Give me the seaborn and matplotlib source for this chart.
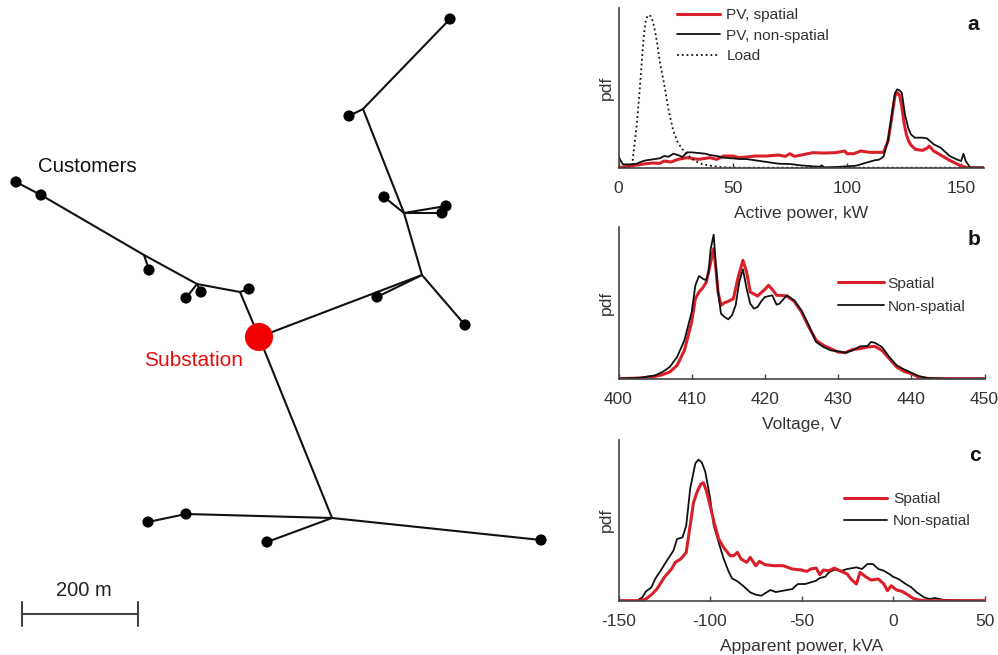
import pandas as pd
import matplotlib
matplotlib.use("Agg")
import matplotlib.pyplot as plt
import seaborn as sns

sns.set_style("white")
plt.rcParams['font.family'] = ['Liberation Sans', 'DejaVu Sans']
plt.rcParams['axes.unicode_minus'] = False

# --- network map, in image units (116 units = 200 m)
cust_x = [16, 41, 149, 186, 201, 249, 450, 349, 384, 446, 442, 377, 465, 148, 186, 267, 541]
cust_y = [182, 195, 270, 298, 292, 289, 19, 116, 197, 206, 213, 297, 325, 522, 514, 542, 540]
sub_x = [259]
sub_y = [337]

# one list of (x, y) vertices per feeder branch
branches = [
    [(16, 182), (41, 195), (144, 255), (197, 284), (240, 292), (259, 337)],
    [(144, 255), (149, 270)],
    [(197, 284), (186, 298)],
    [(197, 284), (201, 292)],
    [(240, 292), (249, 289)],
    [(259, 337), (422, 275), (465, 325)],
    [(422, 275), (377, 297)],
    [(422, 275), (404, 213), (363, 109), (450, 19)],
    [(363, 109), (349, 116)],
    [(404, 213), (384, 197)],
    [(404, 213), (446, 206)],
    [(404, 213), (442, 213)],
    [(259, 337), (332, 518), (541, 540)],
    [(332, 518), (186, 514), (148, 522)],
    [(332, 518), (267, 542)],
]

# --- panel a, active power
a_ticks = [0, 50, 100, 150]
a_load_x = [0, 5, 6, 7, 8, 9, 10, 11, 12, 13, 14, 15, 16, 17, 18, 20, 22, 24, 26, 28, 30, 33, 36, 40, 45, 50, 160]
a_load_y = [0, 0, 10, 70, 130, 210, 300, 390, 445, 458, 455, 440, 410, 370, 320, 250, 170, 110, 75, 55, 40, 22, 12, 6, 2, 0, 0]
a_ns_x = [0, 1, 2, 5, 8, 10, 12, 15, 18, 20, 22, 24, 26, 28, 30, 32, 35, 38, 40, 43, 46, 50, 53, 56, 60, 65, 70, 75, 80, 85, 88, 89, 90, 95, 100, 104, 108, 112, 114, 116, 118, 119.5, 121, 122, 123, 124, 125.4, 126.8, 128, 129.7, 133, 135, 138, 141, 145, 148, 150, 151, 152, 154, 160]
a_ns_y = [35, 20, 10, 10, 12, 18, 22, 25, 28, 35, 33, 42, 38, 32, 46, 46, 44, 42, 38, 35, 30, 28, 26, 26, 22, 17, 12, 11, 7, 4, 3, 7, 1, 2, 4, 6, 14, 22, 24, 33, 83, 153, 223, 235, 232, 225, 160, 120, 100, 90, 90, 88, 70, 60, 35, 25, 20, 42, 20, 0, 0]
a_sp_x = [0, 5, 8, 12, 15, 18, 20, 23, 26, 30, 35, 40, 43, 46, 50, 53, 60, 65, 70, 73, 75, 77, 80, 85, 90, 95, 99, 100, 103, 106, 110, 114, 116, 118, 119.5, 121, 122, 123, 124, 125, 126, 127, 128, 130, 133, 135, 136, 138, 141, 145, 150, 153, 160]
a_sp_y = [0, 5, 8, 12, 14, 13, 20, 17, 25, 30, 25, 30, 25, 35, 35, 30, 35, 35, 38, 34, 42, 34, 38, 45, 44, 45, 50, 42, 42, 50, 46, 46, 46, 80, 145, 215, 225, 218, 185, 135, 100, 80, 68, 55, 52, 58, 65, 50, 38, 22, 5, 0, 0]

# --- panel b, voltage
b_ticks = [400, 410, 420, 430, 440, 450]
b_ns_x = [400, 403, 405, 406, 407, 408, 409, 410, 410.5, 411, 411.5, 412, 412.3, 412.6, 413, 413.3, 413.6, 414, 414.5, 415, 415.5, 416, 416.5, 417, 417.5, 418, 418.5, 419, 419.5, 420, 421, 421.6, 422, 423, 424, 425, 426, 427, 428, 429, 430, 431, 432, 433, 434, 434.5, 435, 436, 437, 438, 439, 440, 441, 442, 443, 445, 450]
b_ns_y = [0, 3, 10, 20, 35, 65, 115, 200, 280, 308, 300, 295, 320, 390, 432, 340, 260, 195, 185, 178, 190, 220, 290, 328, 270, 225, 210, 215, 232, 245, 250, 222, 225, 250, 235, 205, 160, 110, 95, 85, 82, 78, 85, 97, 98, 110, 108, 95, 65, 40, 28, 18, 8, 3, 1, 0, 0]
b_sp_x = [400, 403, 405, 406, 407, 408, 409, 410, 410.5, 411, 411.5, 412, 412.5, 413, 413.3, 413.6, 414, 414.5, 415, 415.7, 416.3, 417, 417.5, 418, 419, 420, 420.5, 421, 421.6, 422, 423, 424, 425, 426, 427, 428, 429, 430, 431, 432, 433, 434, 435, 436, 437, 438, 439, 440, 441, 442, 444, 450]
b_sp_y = [0, 2, 7, 12, 20, 40, 85, 170, 240, 260, 272, 290, 340, 390, 330, 260, 220, 228, 232, 240, 300, 355, 320, 260, 248, 268, 280, 268, 250, 250, 248, 232, 200, 155, 115, 100, 90, 80, 78, 88, 90, 95, 97, 85, 60, 35, 22, 15, 5, 1, 0, 0]

# --- panel c, apparent power
c_ticks = [-150, -100, -50, 0, 50]
c_ns_x = [-150, -140, -137, -135, -132, -130, -127, -123, -120, -118, -115, -113, -110.8, -108, -106.3, -104.5, -102.6, -100, -98, -95, -92.6, -90, -88, -85, -82, -78, -75, -72, -70, -67, -64, -60, -55, -52, -48, -45, -42, -40, -37, -35, -32, -28, -25, -20, -17, -14, -11, -8, -5, -2, 0, 3, 7, 10, 13, 17, 20, 23, 27, 30, 35, 50]
c_ns_y = [0, 0, 10, 28, 40, 65, 90, 125, 150, 185, 190, 225, 337, 412, 423, 415, 387, 310, 227, 170, 127, 90, 67, 58, 45, 25, 18, 15, 22, 32, 26, 30, 35, 50, 50, 55, 60, 68, 72, 85, 93, 90, 95, 100, 95, 110, 110, 95, 90, 80, 72, 65, 50, 40, 25, 10, 5, 8, 3, 2, 1, 0]
c_sp_x = [-150, -138, -135, -132, -129, -125, -121, -119, -116, -113, -110.8, -109, -107, -105, -103.6, -102, -100, -98, -95.4, -92.6, -89, -87, -85, -83, -80, -78, -75, -73, -70, -65, -60, -55, -50, -47, -45, -42, -40, -38, -35, -32, -30, -27, -25, -23, -20, -18, -15, -12, -8, -5, -3, -1, 2, 5, 8, 11, 14, 18, 50]
c_sp_y = [0, 0, 5, 18, 35, 70, 95, 115, 125, 145, 227, 295, 327, 350, 354, 330, 287, 240, 187, 160, 135, 135, 145, 125, 115, 130, 105, 118, 108, 105, 105, 95, 92, 88, 95, 98, 78, 92, 90, 98, 92, 85, 80, 65, 50, 85, 72, 62, 65, 50, 30, 45, 32, 28, 18, 7, 2, 0, 0]

W, H = 998, 655
RED = '#d9202a'
BLACK = '#111111'
GREY = '#444444'
TXT = '#333333'

fig = plt.figure(figsize=(W / 100, H / 100), dpi=100)


def px_axes(left, top, right, bottom):
    return fig.add_axes([left / W, 1 - bottom / H, (right - left) / W, (bottom - top) / H])


# map
mp = px_axes(0, 0, W, H)
mp.set_xlim(0, W)
mp.set_ylim(H, 0)
mp.axis('off')

rows = []
for i, br in enumerate(branches):
    for k, (x, y) in enumerate(br):
        rows.append({'branch': i, 'order': k, 'x': x, 'y': y})
edges = pd.DataFrame(rows)
sns.lineplot(data=edges, x='x', y='y', units='branch', estimator=None, sort=False,
             color=BLACK, lw=1.5, ax=mp, legend=False)
sns.scatterplot(x=cust_x, y=cust_y, color='black', s=65, edgecolor='none', ax=mp, zorder=3)
sns.scatterplot(x=sub_x, y=sub_y, color='#f00000', s=410, edgecolor='none', ax=mp, zorder=4)
mp.set_xlabel('')
mp.set_ylabel('')

mp.text(38, 167, 'Customers', fontsize=14.7, color='#111111', va='center')
mp.text(144, 361, 'Substation', fontsize=15, color='#e01010', va='center')
mp.text(84, 590, '200 m', fontsize=14.5, color='#222222', ha='center', va='center')
mp.plot([22, 138], [614, 614], color=GREY, lw=1.5)
mp.plot([22, 22], [602, 626], color=GREY, lw=1.5)
mp.plot([138, 138], [602, 626], color=GREY, lw=1.5)


def style_panel(ax, xlim, ticks, ymax, xlabel, letter, letter_x, letter_y):
    ax.set_xlim(*xlim)
    ax.set_ylim(0, ymax)
    ax.set_xticks(ticks)
    ax.set_yticks([])
    ax.tick_params(axis='x', direction='in', length=3.5, width=1, color=GREY,
                   labelsize=12.5, labelcolor=TXT, pad=9.5, bottom=True)
    ax.set_xlabel(xlabel, fontsize=12.6, color=TXT, labelpad=7)
    ax.set_ylabel('pdf', fontsize=12.6, color=TXT, labelpad=3)
    ax.patch.set_alpha(0)
    sns.despine(ax=ax)
    for s in ['left', 'bottom']:
        ax.spines[s].set_color(GREY)
        ax.spines[s].set_linewidth(1.2)
    ax.text(letter_x, letter_y, letter, transform=ax.transAxes, fontsize=15, fontweight='bold',
            color='#111111', ha='right', va='center')


legend_kw = dict(loc='upper left', frameon=False, fontsize=11.1, labelcolor=TXT,
                 borderpad=0, borderaxespad=0)

# panel a
ax_a = px_axes(618.5, 8.3, 984, 167.7)
sns.lineplot(x=a_sp_x, y=a_sp_y, color=RED, lw=2.2, label='PV, spatial', ax=ax_a, estimator=None, sort=False)
sns.lineplot(x=a_ns_x, y=a_ns_y, color=BLACK, lw=1.3, label='PV, non-spatial', ax=ax_a, estimator=None, sort=False)
sns.lineplot(x=a_load_x, y=a_load_y, color=BLACK, lw=1.3, ls=':', label='Load', ax=ax_a, estimator=None, sort=False)
style_panel(ax_a, (0, 160), a_ticks, 478, 'Active power, kW', 'a', 0.985, 0.9)
ax_a.legend(bbox_to_anchor=(0.16, 1.0), handlelength=2.8, handletextpad=0.4, labelspacing=0.42, **legend_kw)

# panel b
ax_b = px_axes(618.5, 227.3, 984.5, 378.7)
sns.lineplot(x=b_sp_x, y=b_sp_y, color=RED, lw=2.2, label='Spatial', ax=ax_b, estimator=None, sort=False)
sns.lineplot(x=b_ns_x, y=b_ns_y, color=BLACK, lw=1.3, label='Non-spatial', ax=ax_b, estimator=None, sort=False)
style_panel(ax_b, (400, 450), b_ticks, 454, 'Voltage, V', 'b', 0.99, 0.92)
ax_b.legend(bbox_to_anchor=(0.6, 0.675), handlelength=3.0, handletextpad=0.2, labelspacing=0.6, **legend_kw)

# panel c
ax_c = px_axes(618.5, 440, 984.5, 600.7)
sns.lineplot(x=c_ns_x, y=c_ns_y, color=BLACK, lw=1.3, label='Non-spatial', ax=ax_c, estimator=None, sort=False)
sns.lineplot(x=c_sp_x, y=c_sp_y, color=RED, lw=2.2, label='Spatial', ax=ax_c, estimator=None, sort=False)
style_panel(ax_c, (-150, 50), c_ticks, 482, 'Apparent power, kVA', 'c', 0.99, 0.905)
h, l = ax_c.get_legend_handles_labels()
ax_c.legend(h[::-1], l[::-1], bbox_to_anchor=(0.615, 0.675), handlelength=2.8, handletextpad=0.4, labelspacing=0.5, **legend_kw)

fig.savefig('out.png', dpi=100)
